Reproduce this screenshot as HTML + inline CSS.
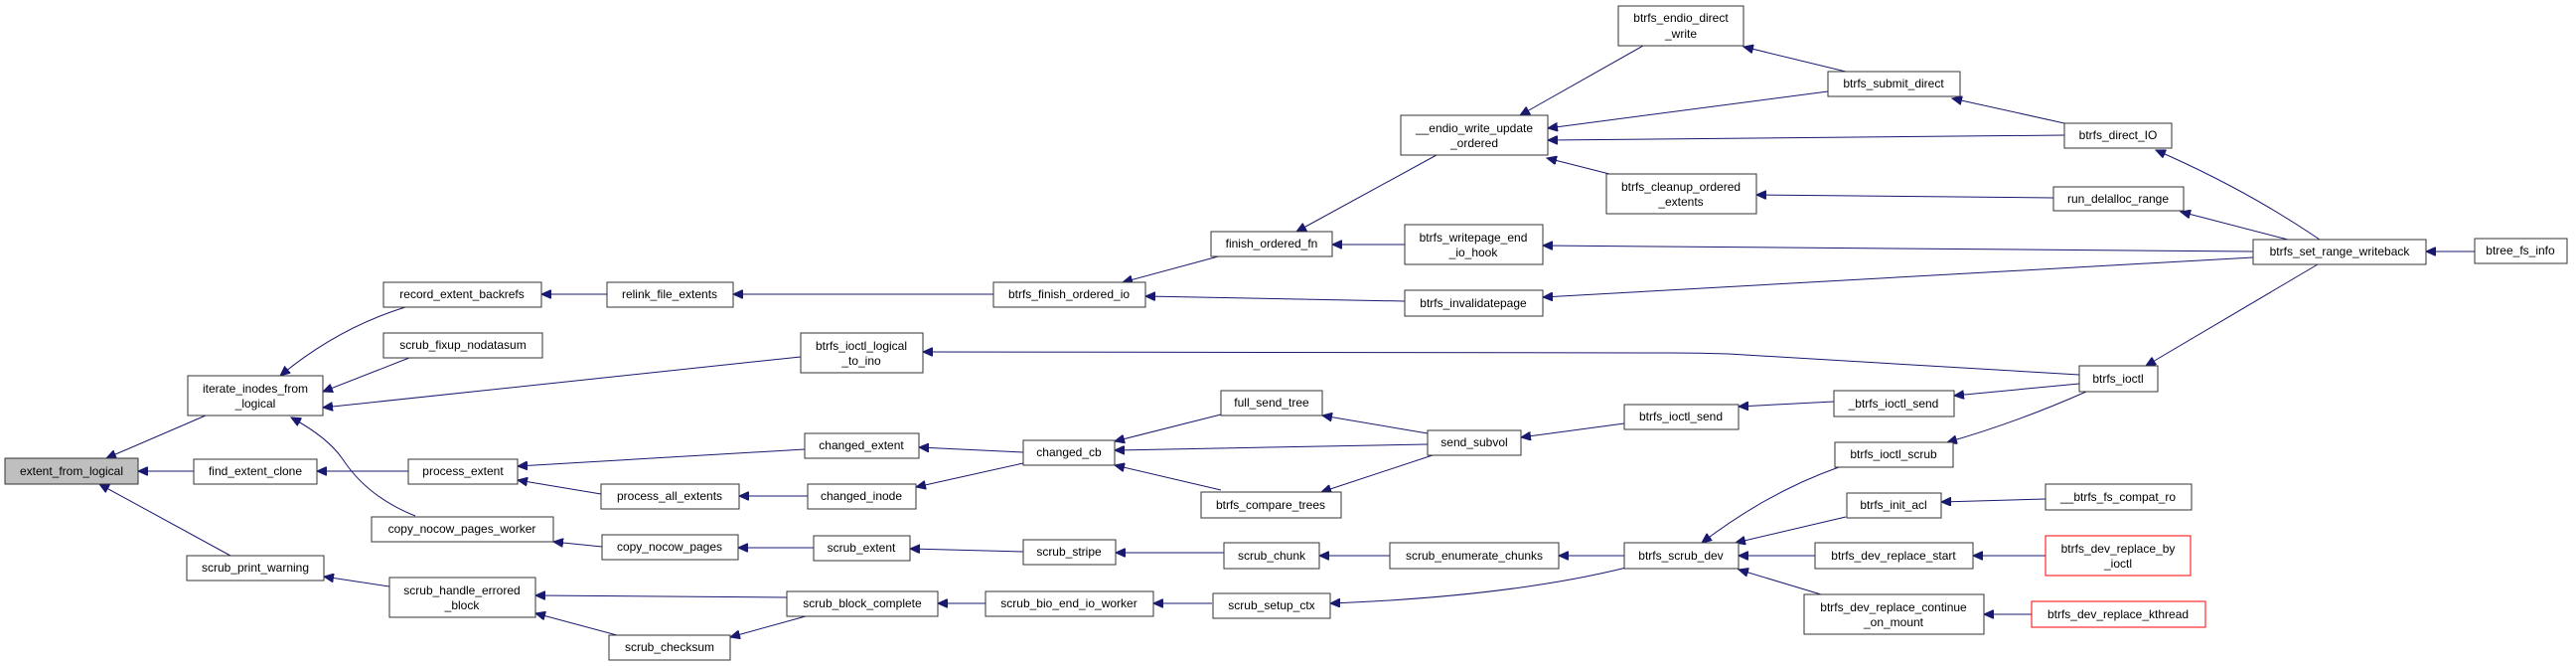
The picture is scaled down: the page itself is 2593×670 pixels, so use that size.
<!DOCTYPE html>
<html><head><meta charset="utf-8"><style>
html,body{margin:0;padding:0;background:#fff;}
svg{display:block}
text{font-family:"Liberation Sans",Arial,sans-serif;font-size:12px;fill:#000;text-anchor:middle}
rect{fill:#fff;stroke:#333;stroke-width:1}
path.e{fill:none;stroke:#191970;stroke-width:1;marker-end:url(#a)}
</style></head><body>
<svg width="2593" height="670" viewBox="0 0 2593 670" xmlns="http://www.w3.org/2000/svg">
<defs><marker id="a" markerUnits="userSpaceOnUse" markerWidth="11" markerHeight="9" refX="10" refY="4.5" orient="auto"><path d="M0,0 L10,4.5 L0,9 z" fill="#191970" stroke="#191970"/></marker></defs>

<!-- edges -->
<path class="e" d="M207,418 L107,461"/>
<path class="e" d="M195,474 L139,474"/>
<path class="e" d="M232,559 L100,487"/>
<path class="e" d="M408,309 Q340,330 282,378"/>
<path class="e" d="M412,360 L325,394"/>
<path class="e" d="M806,359 L325,410"/>
<path class="e" d="M418,519 Q370,500 345,462 Q330,440 293,420"/>
<path class="e" d="M411,474 L319,474"/>
<path class="e" d="M392,590 L326,580"/>
<path class="e" d="M611,296 L545,296"/>
<path class="e" d="M1000,296 L738,296"/>
<path class="e" d="M810,452 L521,469"/>
<path class="e" d="M605,497 L521,483"/>
<path class="e" d="M606,550 L557,545"/>
<path class="e" d="M792,601 L539,599"/>
<path class="e" d="M621,639 L539,617"/>
<path class="e" d="M811,620 L735,641"/>
<path class="e" d="M1230,257 L1130,284"/>
<path class="e" d="M1414,303 L1153,298"/>
<path class="e" d="M1030,455 L925,450"/>
<path class="e" d="M1030,466 L922,490"/>
<path class="e" d="M813,499 L744,499"/>
<path class="e" d="M819,551 L743,551"/>
<path class="e" d="M1030,555 L916,552"/>
<path class="e" d="M1232,556 L1123,556"/>
<path class="e" d="M992,607 L944,607"/>
<path class="e" d="M1220,607 L1161,607"/>
<path class="e" d="M1229,417 L1122,444"/>
<path class="e" d="M1437,447 L1122,453"/>
<path class="e" d="M1229,493 L1122,468"/>
<path class="e" d="M1446,156 L1305,233"/>
<path class="e" d="M1414,246 L1341,246"/>
<path class="e" d="M1654,46 L1530,116"/>
<path class="e" d="M1840,92 L1558,129"/>
<path class="e" d="M2078,136 L1558,141"/>
<path class="e" d="M1620,175 L1557,159"/>
<path class="e" d="M1858,72 L1755,47"/>
<path class="e" d="M2078,124 L1965,99"/>
<path class="e" d="M2067,199 L1768,196"/>
<path class="e" d="M2335,241 Q2260,190 2170,151"/>
<path class="e" d="M2303,241 L2195,213"/>
<path class="e" d="M2268,253 L1553,247"/>
<path class="e" d="M2268,259 L1553,299"/>
<path class="e" d="M2491,253 L2442,253"/>
<path class="e" d="M2333,266 L2160,368"/>
<path class="e" d="M2093,377 L1740,356 Q1710,355 1680,355 L929,354"/>
<path class="e" d="M2093,386 L1967,398"/>
<path class="e" d="M2100,394 Q2030,425 1960,445"/>
<path class="e" d="M1846,404 L1750,409"/>
<path class="e" d="M1635,426 L1531,440"/>
<path class="e" d="M1437,436 L1331,418"/>
<path class="e" d="M1442,458 L1330,495"/>
<path class="e" d="M1635,559 L1569,559"/>
<path class="e" d="M1399,559 L1328,559"/>
<path class="e" d="M1637,571 Q1520,600 1339,607"/>
<path class="e" d="M1851,470 Q1780,495 1713,546"/>
<path class="e" d="M1858,520 L1747,546"/>
<path class="e" d="M1827,559 L1750,559"/>
<path class="e" d="M1833,598 L1750,573"/>
<path class="e" d="M2059,502 L1954,505"/>
<path class="e" d="M2059,559 L1986,559"/>
<path class="e" d="M2045,618 L1997,618"/>

<!-- nodes -->
<rect x="5" y="461" width="134" height="26" style="fill:#bfbfbf"/><text x="72" y="478">extent_from_logical</text>
<rect x="189" y="378" width="136" height="40"/><text x="257" y="395">iterate_inodes_from</text><text x="257" y="410">_logical</text>
<rect x="195" y="462" width="124" height="25"/><text x="257" y="478">find_extent_clone</text>
<rect x="188" y="559" width="138" height="25"/><text x="257" y="575">scrub_print_warning</text>
<rect x="386" y="284" width="159" height="25"/><text x="465" y="300">record_extent_backrefs</text>
<rect x="386" y="335" width="160" height="25"/><text x="466" y="351">scrub_fixup_nodatasum</text>
<rect x="411" y="462" width="110" height="25"/><text x="466" y="478">process_extent</text>
<rect x="374" y="520" width="183" height="25"/><text x="465" y="536">copy_nocow_pages_worker</text>
<rect x="392" y="581" width="147" height="40"/><text x="465" y="598">scrub_handle_errored</text><text x="465" y="613">_block</text>
<rect x="611" y="284" width="127" height="25"/><text x="674" y="300">relink_file_extents</text>
<rect x="1000" y="284" width="153" height="25"/><text x="1076" y="300">btrfs_finish_ordered_io</text>
<rect x="1219" y="233" width="122" height="25"/><text x="1280" y="249">finish_ordered_fn</text>
<rect x="806" y="335" width="123" height="40"/><text x="867" y="352">btrfs_ioctl_logical</text><text x="867" y="367">_to_ino</text>
<rect x="810" y="436" width="115" height="25"/><text x="867" y="452">changed_extent</text>
<rect x="1030" y="443" width="92" height="25"/><text x="1076" y="459">changed_cb</text>
<rect x="605" y="487" width="139" height="25"/><text x="674" y="503">process_all_extents</text>
<rect x="813" y="487" width="109" height="25"/><text x="867" y="503">changed_inode</text>
<rect x="606" y="538" width="137" height="25"/><text x="674" y="554">copy_nocow_pages</text>
<rect x="819" y="539" width="97" height="25"/><text x="867" y="555">scrub_extent</text>
<rect x="1030" y="543" width="93" height="25"/><text x="1076" y="559">scrub_stripe</text>
<rect x="792" y="595" width="152" height="25"/><text x="868" y="611">scrub_block_complete</text>
<rect x="992" y="595" width="169" height="25"/><text x="1076" y="611">scrub_bio_end_io_worker</text>
<rect x="613" y="639" width="122" height="25"/><text x="674" y="655">scrub_checksum</text>
<rect x="1629" y="6" width="126" height="40"/><text x="1692" y="22">btrfs_endio_direct</text><text x="1692" y="38">_write</text>
<rect x="1410" y="116" width="148" height="40"/><text x="1484" y="133">__endio_write_update</text><text x="1484" y="148">_ordered</text>
<rect x="1617" y="175" width="151" height="40"/><text x="1692" y="192">btrfs_cleanup_ordered</text><text x="1692" y="207">_extents</text>
<rect x="1414" y="226" width="139" height="40"/><text x="1483" y="243">btrfs_writepage_end</text><text x="1483" y="258">_io_hook</text>
<rect x="1414" y="292" width="139" height="26"/><text x="1483" y="309">btrfs_invalidatepage</text>
<rect x="1229" y="393" width="102" height="25"/><text x="1280" y="409">full_send_tree</text>
<rect x="1635" y="407" width="115" height="25"/><text x="1692" y="423">btrfs_ioctl_send</text>
<rect x="1437" y="433" width="94" height="25"/><text x="1484" y="449">send_subvol</text>
<rect x="1209" y="495" width="141" height="26"/><text x="1279" y="512">btrfs_compare_trees</text>
<rect x="1232" y="546" width="96" height="26"/><text x="1280" y="563">scrub_chunk</text>
<rect x="1399" y="546" width="170" height="26"/><text x="1484" y="563">scrub_enumerate_chunks</text>
<rect x="1635" y="546" width="115" height="26"/><text x="1692" y="563">btrfs_scrub_dev</text>
<rect x="1221" y="597" width="118" height="25"/><text x="1280" y="613">scrub_setup_ctx</text>
<rect x="1840" y="72" width="133" height="25"/><text x="1906" y="88">btrfs_submit_direct</text>
<rect x="2078" y="124" width="108" height="25"/><text x="2132" y="140">btrfs_direct_IO</text>
<rect x="2067" y="188" width="131" height="24"/><text x="2132" y="204">run_delalloc_range</text>
<rect x="2268" y="241" width="174" height="25"/><text x="2355" y="257">btrfs_set_range_writeback</text>
<rect x="2491" y="240" width="93" height="25"/><text x="2537" y="256">btree_fs_info</text>
<rect x="2093" y="368" width="79" height="26"/><text x="2132" y="385">btrfs_ioctl</text>
<rect x="1846" y="393" width="121" height="26"/><text x="1906" y="410">_btrfs_ioctl_send</text>
<rect x="1847" y="445" width="119" height="25"/><text x="1906" y="461">btrfs_ioctl_scrub</text>
<rect x="1859" y="496" width="95" height="25"/><text x="1906" y="512">btrfs_init_acl</text>
<rect x="2059" y="487" width="147" height="26"/><text x="2132" y="504">__btrfs_fs_compat_ro</text>
<rect x="1827" y="546" width="159" height="26"/><text x="1906" y="563">btrfs_dev_replace_start</text>
<rect x="2059" y="539" width="146" height="40" style="stroke:#ff0000"/><text x="2132" y="556">btrfs_dev_replace_by</text><text x="2132" y="571">_ioctl</text>
<rect x="1816" y="598" width="181" height="40"/><text x="1906" y="615">btrfs_dev_replace_continue</text><text x="1906" y="630">_on_mount</text>
<rect x="2045" y="605" width="175" height="26" style="stroke:#ff0000"/><text x="2132" y="622">btrfs_dev_replace_kthread</text>
</svg>
</body></html>
